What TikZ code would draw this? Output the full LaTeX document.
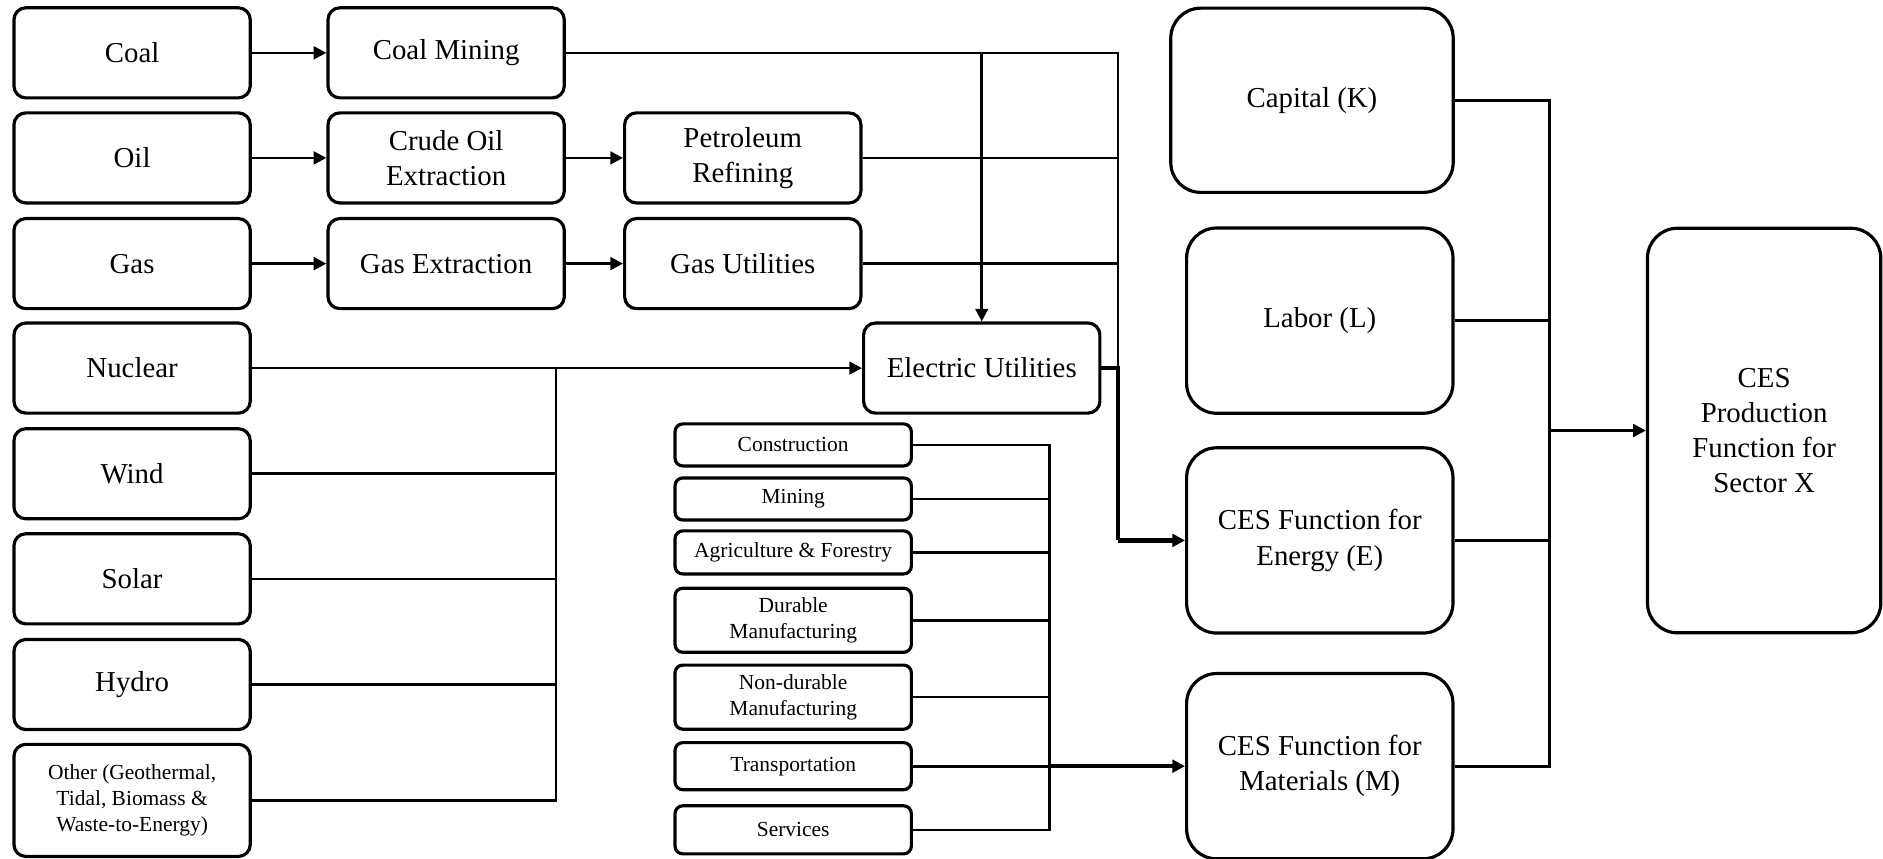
\documentclass[tikz,border=0pt]{standalone}
\usepackage{fontspec}
\setmainfont{Liberation Serif}
\usetikzlibrary{positioning,calc,arrows.meta}
\newcommand{\fbig}{\fontsize{8.2}{10}\selectfont}
\newcommand{\fsml}{\fontsize{6.1}{7.3}\selectfont}
\tikzset{
  src/.style      = {draw=black, rounded corners=3.4pt, fill=white, line width=0.9pt, align=center, font=\fbig, inner sep=1pt, minimum width=2.36cm, minimum height=0.9cm},
  sect/.style     = {draw=black, rounded corners=2.2pt, fill=white, line width=0.9pt, align=center, font=\fsml, inner sep=1pt, minimum width=2.36cm},
  fn/.style       = {draw=black, rounded corners=8.5pt, fill=white, line width=0.9pt, align=center, font=\fbig, minimum width=2.66cm, minimum height=1.85cm},
  link/.style     = {draw=black, line width=0.75pt},
  trunk/.style    = {draw=black, line width=1.3pt},
  arrowto/.style  = {-{Triangle[length=3.6pt,width=3.6pt]}, draw=black, line width=0.75pt},
}

\begin{document}
\begin{tikzpicture}[x=0.012cm,y=-0.012cm]
  \useasboundingbox (0,0) rectangle (1568,715);

  % primary fuels and generation sources
  \foreach \n/\lbl/\y in {coal/Coal/44, oil/Oil/131.5, gas/Gas/219.5, nuc/Nuclear/306.5, wind/Wind/394.5, solar/Solar/482, hydro/Hydro/570} {
    \node[src] (\n) at (110,\y) {\lbl};
  }
  \node[src, font=\fsml, minimum height=1.12cm] (other) at (110,666.5) {Other (Geothermal,\\Tidal, Biomass \&\\Waste-to-Energy)};

  % extraction and processing
  \node[src] (coalmin) at (371.5,44) {Coal Mining};
  \node[src] (crude) at (371.5,131.5) {Crude Oil\\Extraction};
  \node[src] (gasext) at (371.5,219.5) {Gas Extraction};
  \node[src] (petro) at (618.5,131.5) {Petroleum\\Refining};
  \node[src] (gasutil) at (618.5,219.5) {Gas Utilities};
  \node[src] (elec) at (817.5,306.5) {Electric Utilities};

  % material sectors
  \foreach \n/\lbl/\y/\h in {constr/Construction/370.5/0.42, mining/Mining/415.5/0.42, agri/{Agriculture \& Forestry}/460/0.43, dur/{Durable\\Manufacturing}/516.5/0.64, nondur/{Non-durable\\Manufacturing}/580.5/0.64, transp/Transportation/638/0.47, serv/Services/691/0.48} {
    \node[sect, minimum height=\h cm] (\n) at (660.5,\y) {\lbl};
  }

  % nested CES functions
  \node[fn, minimum width=2.82cm, minimum height=1.84cm] (cap) at (1092.5,83.5) {Capital (K)};
  \node[fn] (lab) at (1099,267) {Labor (L)};
  \node[fn] (ene) at (1099,450) {CES Function for\\Energy (E)};
  \node[fn] (mat) at (1099,638) {CES Function for\\Materials (M)};
  \node[fn, minimum width=2.33cm, minimum height=4.04cm] (prod) at (1469,358.5) {CES\\Production\\Function for\\Sector X};

  \coordinate (gbus) at (463,0);
  \coordinate (mbus) at (874,0);
  \coordinate (ebus) at (931,0);
  \coordinate (kbus) at (1290,0);

  % fuel chains
  \draw[arrowto] (coal) -- (coalmin);
  \draw[arrowto] (oil) -- (crude);
  \draw[arrowto] (crude) -- (petro);
  \draw[arrowto] (gas) -- (gasext);
  \draw[arrowto] (gasext) -- (gasutil);

  % generation into electric utilities
  \draw[arrowto] (nuc) -- (elec);
  \foreach \s in {wind,solar,hydro,other}
    \draw[link] (\s.east) -| (gbus |- nuc.east);

  % energy bundle
  \draw[link] (coalmin.east) -| (ebus |- elec.east);
  \draw[arrowto] (elec |- coalmin.east) -- (elec.north);
  \foreach \s in {petro,gasutil}
    \draw[link] (\s.east) -- (ebus |- \s.east);
  \draw[trunk] (elec.east) -| (ebus |- ene.west);
  \draw[arrowto, trunk] (ebus |- ene.west) -- (ene.west);

  % materials bundle
  \foreach \s in {constr,mining,agri,dur,nondur,serv}
    \draw[link] (\s.east) -| (mbus |- transp.east);
  \draw[link] (transp.east) -- (mbus |- transp.east);
  \draw[arrowto, trunk] (mbus |- mat.west) -- (mat.west);

  % top level
  \foreach \s in {cap,lab,ene,mat}
    \draw[link] (\s.east) -| (kbus |- prod.west);
  \draw[arrowto] (kbus |- prod.west) -- (prod.west);
\end{tikzpicture}
\end{document}
